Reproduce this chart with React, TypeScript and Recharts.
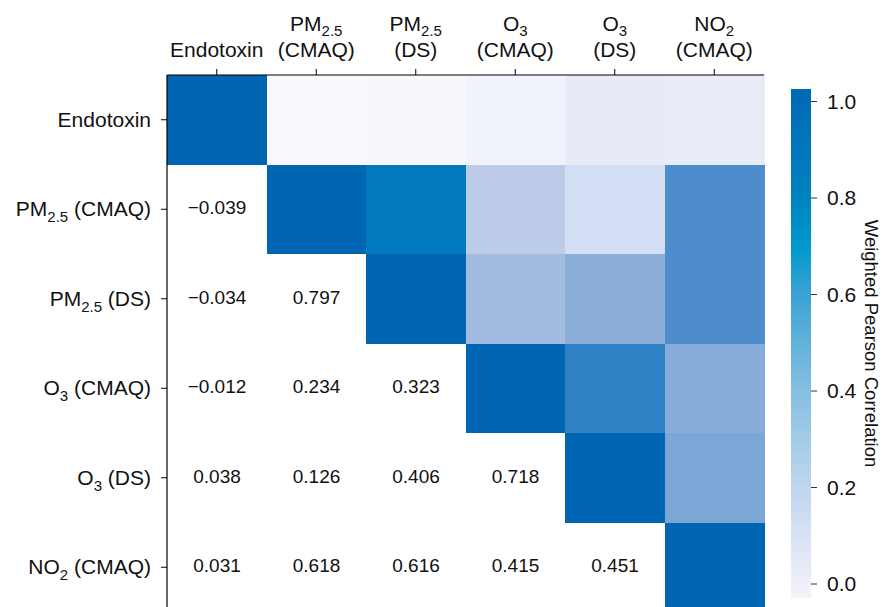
import { BarChart, Bar, XAxis, YAxis, Cell, LabelList } from 'recharts';

// variables, split into base text, subscript and source
const variables = ['Endotoxin', 'PM2.5 (CMAQ)', 'PM2.5 (DS)', 'O3 (CMAQ)', 'O3 (DS)', 'NO2 (CMAQ)'];
const labelBase = ['Endotoxin', 'PM', 'PM', 'O', 'O', 'NO'];
const labelSub = ['', '2.5', '2.5', '3', '3', '2'];
const labelSource = ['', '(CMAQ)', '(DS)', '(CMAQ)', '(DS)', '(CMAQ)'];

// weighted pearson correlations, lower triangle (row > col)
const lowerTriangle: number[][] = [
  [],
  [-0.039],
  [-0.034, 0.797],
  [-0.012, 0.234, 0.323],
  [0.038, 0.126, 0.406, 0.718],
  [0.031, 0.618, 0.616, 0.415, 0.451],
];

const rowTicks = [0.5, 1.5, 2.5, 3.5, 4.5, 5.5];
const colorbarTicks = [0, 0.2, 0.4, 0.6, 0.8, 1.0];
const colorbarDomain: [number, number] = [-0.029, 1.026];

// colour stops [value, hex] for the cells and the colour bar
const cellStops: [number, string][] = [
  [-0.039, '#f8f8fd'],
  [-0.012, '#f0f4fa'],
  [0.035, '#e8eaf7'],
  [0.126, '#d3ddf3'],
  [0.234, '#bbcbe8'],
  [0.323, '#a3bbe0'],
  [0.41, '#8aadd9'],
  [0.451, '#7ca6d6'],
  [0.617, '#4d8dcb'],
  [0.718, '#2f82c5'],
  [0.797, '#0079bf'],
  [1.0, '#0066b3'],
];

const barStops: [number, string][] = [
  [-0.029, '#f3f3fb'],
  [0.0, '#eeeff9'],
  [0.1, '#d8e2f4'],
  [0.2, '#bed6ee'],
  [0.3, '#a3cbe8'],
  [0.4, '#85bfe1'],
  [0.5, '#62b1da'],
  [0.6, '#3aa3d4'],
  [0.7, '#0099cc'],
  [0.8, '#0082c1'],
  [1.0, '#006cb5'],
  [1.026, '#006ab4'],
];

const FONT = '"Liberation Sans", Arial, Helvetica, sans-serif';

const corr = (r: number, c: number) =>
  r === c ? 1 : lowerTriangle[Math.max(r, c)][Math.min(r, c)];

const hexToRgb = (h: string) => [1, 3, 5].map((i) => parseInt(h.slice(i, i + 2), 16));

function colorFor(v: number, stops: [number, string][]) {
  if (v <= stops[0][0]) return stops[0][1];
  for (let i = 1; i < stops.length; i++) {
    const [v1, c1] = stops[i];
    if (v <= v1) {
      const [v0, c0] = stops[i - 1];
      const t = (v - v0) / (v1 - v0);
      const a = hexToRgb(c0);
      const b = hexToRgb(c1);
      const m = a.map((x, k) => Math.round(x + (b[k] - x) * t));
      return `rgb(${m[0]},${m[1]},${m[2]})`;
    }
  }
  return stops[stops.length - 1][1];
}

const fmt = (v: number) => (v < 0 ? '\u2212' : '') + Math.abs(v).toFixed(3);

// one entry per column, each row is a unit segment of the stack
const data = variables.map((name) => {
  const d: Record<string, string | number> = { col: name };
  variables.forEach((_, r) => (d[`r${r}`] = 1));
  return d;
});

function TopTick(props: any) {
  const { x, y, payload } = props;
  const i = variables.indexOf(payload.value);
  if (!labelSub[i]) {
    return (
      <text x={x} y={y - 10} textAnchor="middle" fontSize={21} fontFamily={FONT} fill="#111">
        {labelBase[i]}
      </text>
    );
  }
  return (
    <g>
      <text x={x} y={y - 36} textAnchor="middle" fontSize={21} fontFamily={FONT} fill="#111">
        <tspan>{labelBase[i]}</tspan>
        <tspan dy={5} fontSize={15}>{labelSub[i]}</tspan>
      </text>
      <text x={x} y={y - 10} textAnchor="middle" fontSize={21} fontFamily={FONT} fill="#111">
        {labelSource[i]}
      </text>
    </g>
  );
}

function LeftTick(props: any) {
  const { x, y, payload } = props;
  const i = Math.floor(payload.value);
  return (
    <text x={x - 8} y={y + 7} textAnchor="end" fontSize={21} fontFamily={FONT} fill="#111">
      <tspan>{labelBase[i]}</tspan>
      {labelSub[i] && <tspan dy={6} fontSize={15}>{labelSub[i]}</tspan>}
      {labelSub[i] && <tspan dy={-6}> {labelSource[i]}</tspan>}
    </text>
  );
}

const valueLabel = (row: number) => (props: any) => {
  const { x, y, width, height, index } = props;
  if (index >= row) return null;
  return (
    <text
      x={x + width / 2}
      y={y + height / 2}
      dy={5}
      textAnchor="middle"
      fontSize={19}
      fontFamily={FONT}
      fill="#111"
    >
      {fmt(corr(row, index))}
    </text>
  );
};

export default function App() {
  const [lo, hi] = colorbarDomain;
  return (
    <div style={{ position: 'absolute', left: 0, top: 0, width: 884, height: 607, overflow: 'hidden', background: '#fff' }}>
      <div style={{ position: 'absolute', left: 0, top: 0 }}>
        <BarChart
          width={884}
          height={613}
          data={data}
          margin={{ top: 0, right: 120, bottom: 1, left: 0 }}
          barCategoryGap={0}
          barGap={0}
        >
          <XAxis
            dataKey="col"
            type="category"
            orientation="top"
            height={75}
            tickSize={6}
            tick={<TopTick />}
            axisLine={{ stroke: '#000', strokeWidth: 1.2 }}
            tickLine={{ stroke: '#000' }}
            interval={0}
          />
          <YAxis
            type="number"
            domain={[0, 6]}
            reversed
            ticks={rowTicks}
            width={167}
            tickSize={6}
            tick={<LeftTick />}
            axisLine={{ stroke: '#000', strokeWidth: 1.2 }}
            tickLine={{ stroke: '#000' }}
            interval={0}
          />
          <YAxis
            yAxisId="edge"
            orientation="right"
            type="number"
            domain={[0, 6]}
            width={0}
            tick={false}
            tickLine={false}
            axisLine={{ stroke: '#000', strokeWidth: 1.5 }}
          />
          {variables.map((_, r) => (
            <Bar key={r} dataKey={`r${r}`} stackId="m" isAnimationActive={false} shapeRendering="crispEdges">
              {variables.map((__, c) => (
                <Cell key={c} fill={c >= r ? colorFor(corr(r, c), cellStops) : 'transparent'} />
              ))}
              <LabelList content={valueLabel(r)} />
            </Bar>
          ))}
        </BarChart>
      </div>
      <div style={{ position: 'absolute', left: 0, top: 0 }}>
        <BarChart
          width={884}
          height={607}
          data={[{ k: 'cb', span: [lo, hi] }]}
          margin={{ top: 89, right: 0, bottom: 9, left: 791 }}
          barCategoryGap={0}
        >
          <defs>
            <linearGradient id="cbGrad" x1="0" y1="1" x2="0" y2="0">
              {barStops.map(([v, c]) => (
                <stop key={v} offset={(v - lo) / (hi - lo)} stopColor={c} />
              ))}
            </linearGradient>
          </defs>
          <XAxis dataKey="k" type="category" hide />
          <YAxis
            type="number"
            orientation="right"
            domain={colorbarDomain}
            allowDataOverflow
            ticks={colorbarTicks}
            tickFormatter={(v: number) => v.toFixed(1)}
            width={73}
            tickSize={6}
            tickMargin={10}
            axisLine={false}
            tickLine={{ stroke: '#333' }}
            tick={{ fontSize: 21, fontFamily: FONT, fill: '#111' }}
            label={{
              value: 'Weighted Pearson Correlation',
              angle: 90,
              position: 'center',
              dx: 24,
              style: { fontSize: 18.5, fontFamily: FONT, fill: '#111', textAnchor: 'middle' },
            }}
          />
          <Bar dataKey="span" fill="url(#cbGrad)" isAnimationActive={false} />
        </BarChart>
      </div>
    </div>
  );
}
